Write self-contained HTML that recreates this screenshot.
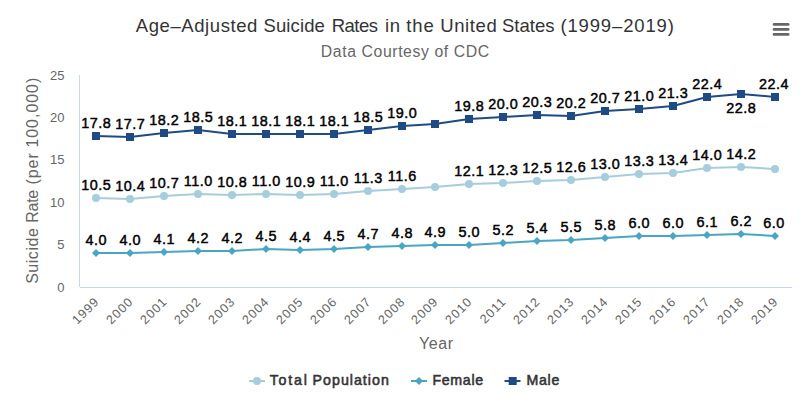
<!DOCTYPE html>
<html><head><meta charset="utf-8"><style>html,body{margin:0;padding:0;background:#fff;width:812px;height:418px;overflow:hidden}</style></head>
<body><svg width="812" height="418" viewBox="0 0 812 418" style="display:block;font-family:'Liberation Sans', sans-serif"><rect width="812" height="418" fill="#ffffff"/><text x="135.7" y="31.5" font-size="18.5" fill="#333333" textLength="121.7" lengthAdjust="spacing">Age–Adjusted</text><text x="263.5" y="31.5" font-size="18.5" fill="#333333" textLength="61.4" lengthAdjust="spacing">Suicide</text><text x="331.7" y="31.5" font-size="18.5" fill="#333333" textLength="46.3" lengthAdjust="spacing">Rates</text><text x="385.0" y="31.5" font-size="18.5" fill="#333333" textLength="15.1" lengthAdjust="spacing">in</text><text x="406.3" y="31.5" font-size="18.5" fill="#333333" textLength="27.6" lengthAdjust="spacing">the</text><text x="440.3" y="31.5" font-size="18.5" fill="#333333" textLength="56.4" lengthAdjust="spacing">United</text><text x="502.0" y="31.5" font-size="18.5" fill="#333333" textLength="52.6" lengthAdjust="spacing">States</text><text x="560.4" y="31.5" font-size="18.5" fill="#333333" textLength="113.5" lengthAdjust="spacing">(1999–2019)</text><text x="405" y="56.5" text-anchor="middle" font-size="15.8" fill="#666666" textLength="168.5" lengthAdjust="spacing">Data Courtesy of CDC</text><path d="M774 24.4 L788.2 24.4" stroke="#666666" stroke-width="2.6" stroke-linecap="round"/><path d="M774 29.4 L788.2 29.4" stroke="#666666" stroke-width="2.6" stroke-linecap="round"/><path d="M774 34.4 L788.2 34.4" stroke="#666666" stroke-width="2.6" stroke-linecap="round"/><path d="M79.5 75 L79.5 287" stroke="#ccd6eb" stroke-width="1"/><path d="M80 287.5 L792 287.5" stroke="#ccd6eb" stroke-width="1"/><text x="64.5" y="291.6" text-anchor="end" font-size="13" fill="#666666">0</text><text x="64.5" y="249.2" text-anchor="end" font-size="13" fill="#666666">5</text><text x="64.5" y="206.8" text-anchor="end" font-size="13" fill="#666666">10</text><text x="64.5" y="164.4" text-anchor="end" font-size="13" fill="#666666">15</text><text x="64.5" y="122.0" text-anchor="end" font-size="13" fill="#666666">20</text><text x="64.5" y="79.6" text-anchor="end" font-size="13" fill="#666666">25</text><text transform="translate(37.7,283.8) rotate(-90)" x="0" y="0" font-size="16" fill="#666666" textLength="55.6" lengthAdjust="spacing">Suicide</text><text transform="translate(37.7,222.7) rotate(-90)" x="0" y="0" font-size="16" fill="#666666" textLength="32.9" lengthAdjust="spacing">Rate</text><text transform="translate(37.7,184.6) rotate(-90)" x="0" y="0" font-size="16" fill="#666666" textLength="31.4" lengthAdjust="spacing">(per</text><text transform="translate(37.7,147.6) rotate(-90)" x="0" y="0" font-size="16" fill="#666666" textLength="69.9" lengthAdjust="spacing">100,000)</text><text transform="translate(100.0,302.3) rotate(-45)" text-anchor="end" font-size="12.6" letter-spacing="1.0" fill="#666666">1999</text><text transform="translate(134.0,302.3) rotate(-45)" text-anchor="end" font-size="12.6" letter-spacing="1.0" fill="#666666">2000</text><text transform="translate(168.0,302.3) rotate(-45)" text-anchor="end" font-size="12.6" letter-spacing="1.0" fill="#666666">2001</text><text transform="translate(202.0,302.3) rotate(-45)" text-anchor="end" font-size="12.6" letter-spacing="1.0" fill="#666666">2002</text><text transform="translate(236.0,302.3) rotate(-45)" text-anchor="end" font-size="12.6" letter-spacing="1.0" fill="#666666">2003</text><text transform="translate(270.0,302.3) rotate(-45)" text-anchor="end" font-size="12.6" letter-spacing="1.0" fill="#666666">2004</text><text transform="translate(304.0,302.3) rotate(-45)" text-anchor="end" font-size="12.6" letter-spacing="1.0" fill="#666666">2005</text><text transform="translate(338.0,302.3) rotate(-45)" text-anchor="end" font-size="12.6" letter-spacing="1.0" fill="#666666">2006</text><text transform="translate(372.0,302.3) rotate(-45)" text-anchor="end" font-size="12.6" letter-spacing="1.0" fill="#666666">2007</text><text transform="translate(406.0,302.3) rotate(-45)" text-anchor="end" font-size="12.6" letter-spacing="1.0" fill="#666666">2008</text><text transform="translate(439.0,302.3) rotate(-45)" text-anchor="end" font-size="12.6" letter-spacing="1.0" fill="#666666">2009</text><text transform="translate(473.0,302.3) rotate(-45)" text-anchor="end" font-size="12.6" letter-spacing="1.0" fill="#666666">2010</text><text transform="translate(507.0,302.3) rotate(-45)" text-anchor="end" font-size="12.6" letter-spacing="1.0" fill="#666666">2011</text><text transform="translate(541.0,302.3) rotate(-45)" text-anchor="end" font-size="12.6" letter-spacing="1.0" fill="#666666">2012</text><text transform="translate(575.0,302.3) rotate(-45)" text-anchor="end" font-size="12.6" letter-spacing="1.0" fill="#666666">2013</text><text transform="translate(609.0,302.3) rotate(-45)" text-anchor="end" font-size="12.6" letter-spacing="1.0" fill="#666666">2014</text><text transform="translate(643.0,302.3) rotate(-45)" text-anchor="end" font-size="12.6" letter-spacing="1.0" fill="#666666">2015</text><text transform="translate(677.0,302.3) rotate(-45)" text-anchor="end" font-size="12.6" letter-spacing="1.0" fill="#666666">2016</text><text transform="translate(711.0,302.3) rotate(-45)" text-anchor="end" font-size="12.6" letter-spacing="1.0" fill="#666666">2017</text><text transform="translate(745.0,302.3) rotate(-45)" text-anchor="end" font-size="12.6" letter-spacing="1.0" fill="#666666">2018</text><text transform="translate(779.0,302.3) rotate(-45)" text-anchor="end" font-size="12.6" letter-spacing="1.0" fill="#666666">2019</text><text x="436" y="348.7" text-anchor="middle" font-size="16" fill="#666666" textLength="34" lengthAdjust="spacing">Year</text><path d="M96.00 198.00 L130.00 199.00 L164.00 196.00 L198.00 194.00 L232.00 195.00 L266.00 194.00 L300.00 195.00 L334.00 194.00 L368.00 191.00 L402.00 189.00 L435.00 187.00 L469.00 184.00 L503.00 183.00 L537.00 181.00 L571.00 180.00 L605.00 177.00 L639.00 174.00 L673.00 173.00 L707.00 168.00 L741.00 167.00 L775.00 169.00" fill="none" stroke="#a5cddc" stroke-width="2" stroke-linejoin="round" stroke-linecap="round"/><circle cx="96.00" cy="198.00" r="4" fill="#a5cddc"/><circle cx="130.00" cy="199.00" r="4" fill="#a5cddc"/><circle cx="164.00" cy="196.00" r="4" fill="#a5cddc"/><circle cx="198.00" cy="194.00" r="4" fill="#a5cddc"/><circle cx="232.00" cy="195.00" r="4" fill="#a5cddc"/><circle cx="266.00" cy="194.00" r="4" fill="#a5cddc"/><circle cx="300.00" cy="195.00" r="4" fill="#a5cddc"/><circle cx="334.00" cy="194.00" r="4" fill="#a5cddc"/><circle cx="368.00" cy="191.00" r="4" fill="#a5cddc"/><circle cx="402.00" cy="189.00" r="4" fill="#a5cddc"/><circle cx="435.00" cy="187.00" r="4" fill="#a5cddc"/><circle cx="469.00" cy="184.00" r="4" fill="#a5cddc"/><circle cx="503.00" cy="183.00" r="4" fill="#a5cddc"/><circle cx="537.00" cy="181.00" r="4" fill="#a5cddc"/><circle cx="571.00" cy="180.00" r="4" fill="#a5cddc"/><circle cx="605.00" cy="177.00" r="4" fill="#a5cddc"/><circle cx="639.00" cy="174.00" r="4" fill="#a5cddc"/><circle cx="673.00" cy="173.00" r="4" fill="#a5cddc"/><circle cx="707.00" cy="168.00" r="4" fill="#a5cddc"/><circle cx="741.00" cy="167.00" r="4" fill="#a5cddc"/><circle cx="775.00" cy="169.00" r="4" fill="#a5cddc"/><path d="M96.00 253.00 L130.00 253.00 L164.00 252.00 L198.00 251.00 L232.00 251.00 L266.00 249.00 L300.00 250.00 L334.00 249.00 L368.00 247.00 L402.00 246.00 L435.00 245.00 L469.00 245.00 L503.00 243.00 L537.00 241.00 L571.00 240.00 L605.00 238.00 L639.00 236.00 L673.00 236.00 L707.00 235.00 L741.00 234.00 L775.00 236.00" fill="none" stroke="#48a6c4" stroke-width="2" stroke-linejoin="round" stroke-linecap="round"/><path d="M96.00 249.00 L100.00 253.00 L96.00 257.00 L92.00 253.00 Z" fill="#48a6c4"/><path d="M130.00 249.00 L134.00 253.00 L130.00 257.00 L126.00 253.00 Z" fill="#48a6c4"/><path d="M164.00 248.00 L168.00 252.00 L164.00 256.00 L160.00 252.00 Z" fill="#48a6c4"/><path d="M198.00 247.00 L202.00 251.00 L198.00 255.00 L194.00 251.00 Z" fill="#48a6c4"/><path d="M232.00 247.00 L236.00 251.00 L232.00 255.00 L228.00 251.00 Z" fill="#48a6c4"/><path d="M266.00 245.00 L270.00 249.00 L266.00 253.00 L262.00 249.00 Z" fill="#48a6c4"/><path d="M300.00 246.00 L304.00 250.00 L300.00 254.00 L296.00 250.00 Z" fill="#48a6c4"/><path d="M334.00 245.00 L338.00 249.00 L334.00 253.00 L330.00 249.00 Z" fill="#48a6c4"/><path d="M368.00 243.00 L372.00 247.00 L368.00 251.00 L364.00 247.00 Z" fill="#48a6c4"/><path d="M402.00 242.00 L406.00 246.00 L402.00 250.00 L398.00 246.00 Z" fill="#48a6c4"/><path d="M435.00 241.00 L439.00 245.00 L435.00 249.00 L431.00 245.00 Z" fill="#48a6c4"/><path d="M469.00 241.00 L473.00 245.00 L469.00 249.00 L465.00 245.00 Z" fill="#48a6c4"/><path d="M503.00 239.00 L507.00 243.00 L503.00 247.00 L499.00 243.00 Z" fill="#48a6c4"/><path d="M537.00 237.00 L541.00 241.00 L537.00 245.00 L533.00 241.00 Z" fill="#48a6c4"/><path d="M571.00 236.00 L575.00 240.00 L571.00 244.00 L567.00 240.00 Z" fill="#48a6c4"/><path d="M605.00 234.00 L609.00 238.00 L605.00 242.00 L601.00 238.00 Z" fill="#48a6c4"/><path d="M639.00 232.00 L643.00 236.00 L639.00 240.00 L635.00 236.00 Z" fill="#48a6c4"/><path d="M673.00 232.00 L677.00 236.00 L673.00 240.00 L669.00 236.00 Z" fill="#48a6c4"/><path d="M707.00 231.00 L711.00 235.00 L707.00 239.00 L703.00 235.00 Z" fill="#48a6c4"/><path d="M741.00 230.00 L745.00 234.00 L741.00 238.00 L737.00 234.00 Z" fill="#48a6c4"/><path d="M775.00 232.00 L779.00 236.00 L775.00 240.00 L771.00 236.00 Z" fill="#48a6c4"/><path d="M96.00 136.00 L130.00 137.00 L164.00 133.00 L198.00 130.00 L232.00 134.00 L266.00 134.00 L300.00 134.00 L334.00 134.00 L368.00 130.00 L402.00 126.00 L435.00 124.00 L469.00 119.00 L503.00 117.00 L537.00 115.00 L571.00 116.00 L605.00 111.00 L639.00 109.00 L673.00 106.00 L707.00 97.00 L741.00 94.00 L775.00 97.00" fill="none" stroke="#1f4b85" stroke-width="2" stroke-linejoin="round" stroke-linecap="round"/><rect x="92.00" y="132.00" width="8" height="8" fill="#1f4b85"/><rect x="126.00" y="133.00" width="8" height="8" fill="#1f4b85"/><rect x="160.00" y="129.00" width="8" height="8" fill="#1f4b85"/><rect x="194.00" y="126.00" width="8" height="8" fill="#1f4b85"/><rect x="228.00" y="130.00" width="8" height="8" fill="#1f4b85"/><rect x="262.00" y="130.00" width="8" height="8" fill="#1f4b85"/><rect x="296.00" y="130.00" width="8" height="8" fill="#1f4b85"/><rect x="330.00" y="130.00" width="8" height="8" fill="#1f4b85"/><rect x="364.00" y="126.00" width="8" height="8" fill="#1f4b85"/><rect x="398.00" y="122.00" width="8" height="8" fill="#1f4b85"/><rect x="431.00" y="120.00" width="8" height="8" fill="#1f4b85"/><rect x="465.00" y="115.00" width="8" height="8" fill="#1f4b85"/><rect x="499.00" y="113.00" width="8" height="8" fill="#1f4b85"/><rect x="533.00" y="111.00" width="8" height="8" fill="#1f4b85"/><rect x="567.00" y="112.00" width="8" height="8" fill="#1f4b85"/><rect x="601.00" y="107.00" width="8" height="8" fill="#1f4b85"/><rect x="635.00" y="105.00" width="8" height="8" fill="#1f4b85"/><rect x="669.00" y="102.00" width="8" height="8" fill="#1f4b85"/><rect x="703.00" y="93.00" width="8" height="8" fill="#1f4b85"/><rect x="737.00" y="90.00" width="8" height="8" fill="#1f4b85"/><rect x="771.00" y="93.00" width="8" height="8" fill="#1f4b85"/><text x="96.25" y="190.20" text-anchor="middle" font-size="14.4" letter-spacing="0.5" fill="#000000" stroke="#000000" stroke-width="0.45">10.5</text><text x="130.25" y="191.20" text-anchor="middle" font-size="14.4" letter-spacing="0.5" fill="#000000" stroke="#000000" stroke-width="0.45">10.4</text><text x="164.25" y="188.20" text-anchor="middle" font-size="14.4" letter-spacing="0.5" fill="#000000" stroke="#000000" stroke-width="0.45">10.7</text><text x="198.25" y="186.20" text-anchor="middle" font-size="14.4" letter-spacing="0.5" fill="#000000" stroke="#000000" stroke-width="0.45">11.0</text><text x="232.25" y="187.20" text-anchor="middle" font-size="14.4" letter-spacing="0.5" fill="#000000" stroke="#000000" stroke-width="0.45">10.8</text><text x="266.25" y="186.20" text-anchor="middle" font-size="14.4" letter-spacing="0.5" fill="#000000" stroke="#000000" stroke-width="0.45">11.0</text><text x="300.25" y="187.20" text-anchor="middle" font-size="14.4" letter-spacing="0.5" fill="#000000" stroke="#000000" stroke-width="0.45">10.9</text><text x="334.25" y="186.20" text-anchor="middle" font-size="14.4" letter-spacing="0.5" fill="#000000" stroke="#000000" stroke-width="0.45">11.0</text><text x="368.25" y="183.20" text-anchor="middle" font-size="14.4" letter-spacing="0.5" fill="#000000" stroke="#000000" stroke-width="0.45">11.3</text><text x="402.25" y="181.20" text-anchor="middle" font-size="14.4" letter-spacing="0.5" fill="#000000" stroke="#000000" stroke-width="0.45">11.6</text><text x="469.25" y="176.20" text-anchor="middle" font-size="14.4" letter-spacing="0.5" fill="#000000" stroke="#000000" stroke-width="0.45">12.1</text><text x="503.25" y="175.20" text-anchor="middle" font-size="14.4" letter-spacing="0.5" fill="#000000" stroke="#000000" stroke-width="0.45">12.3</text><text x="537.25" y="173.20" text-anchor="middle" font-size="14.4" letter-spacing="0.5" fill="#000000" stroke="#000000" stroke-width="0.45">12.5</text><text x="571.25" y="172.20" text-anchor="middle" font-size="14.4" letter-spacing="0.5" fill="#000000" stroke="#000000" stroke-width="0.45">12.6</text><text x="605.25" y="169.20" text-anchor="middle" font-size="14.4" letter-spacing="0.5" fill="#000000" stroke="#000000" stroke-width="0.45">13.0</text><text x="639.25" y="166.20" text-anchor="middle" font-size="14.4" letter-spacing="0.5" fill="#000000" stroke="#000000" stroke-width="0.45">13.3</text><text x="673.25" y="165.20" text-anchor="middle" font-size="14.4" letter-spacing="0.5" fill="#000000" stroke="#000000" stroke-width="0.45">13.4</text><text x="707.25" y="160.20" text-anchor="middle" font-size="14.4" letter-spacing="0.5" fill="#000000" stroke="#000000" stroke-width="0.45">14.0</text><text x="741.25" y="159.20" text-anchor="middle" font-size="14.4" letter-spacing="0.5" fill="#000000" stroke="#000000" stroke-width="0.45">14.2</text><text x="96.25" y="245.20" text-anchor="middle" font-size="14.4" letter-spacing="0.5" fill="#000000" stroke="#000000" stroke-width="0.45">4.0</text><text x="130.25" y="245.20" text-anchor="middle" font-size="14.4" letter-spacing="0.5" fill="#000000" stroke="#000000" stroke-width="0.45">4.0</text><text x="164.25" y="244.20" text-anchor="middle" font-size="14.4" letter-spacing="0.5" fill="#000000" stroke="#000000" stroke-width="0.45">4.1</text><text x="198.25" y="243.20" text-anchor="middle" font-size="14.4" letter-spacing="0.5" fill="#000000" stroke="#000000" stroke-width="0.45">4.2</text><text x="232.25" y="243.20" text-anchor="middle" font-size="14.4" letter-spacing="0.5" fill="#000000" stroke="#000000" stroke-width="0.45">4.2</text><text x="266.25" y="241.20" text-anchor="middle" font-size="14.4" letter-spacing="0.5" fill="#000000" stroke="#000000" stroke-width="0.45">4.5</text><text x="300.25" y="242.20" text-anchor="middle" font-size="14.4" letter-spacing="0.5" fill="#000000" stroke="#000000" stroke-width="0.45">4.4</text><text x="334.25" y="241.20" text-anchor="middle" font-size="14.4" letter-spacing="0.5" fill="#000000" stroke="#000000" stroke-width="0.45">4.5</text><text x="368.25" y="239.20" text-anchor="middle" font-size="14.4" letter-spacing="0.5" fill="#000000" stroke="#000000" stroke-width="0.45">4.7</text><text x="402.25" y="238.20" text-anchor="middle" font-size="14.4" letter-spacing="0.5" fill="#000000" stroke="#000000" stroke-width="0.45">4.8</text><text x="435.25" y="237.20" text-anchor="middle" font-size="14.4" letter-spacing="0.5" fill="#000000" stroke="#000000" stroke-width="0.45">4.9</text><text x="469.25" y="237.20" text-anchor="middle" font-size="14.4" letter-spacing="0.5" fill="#000000" stroke="#000000" stroke-width="0.45">5.0</text><text x="503.25" y="235.20" text-anchor="middle" font-size="14.4" letter-spacing="0.5" fill="#000000" stroke="#000000" stroke-width="0.45">5.2</text><text x="537.25" y="233.20" text-anchor="middle" font-size="14.4" letter-spacing="0.5" fill="#000000" stroke="#000000" stroke-width="0.45">5.4</text><text x="571.25" y="232.20" text-anchor="middle" font-size="14.4" letter-spacing="0.5" fill="#000000" stroke="#000000" stroke-width="0.45">5.5</text><text x="605.25" y="230.20" text-anchor="middle" font-size="14.4" letter-spacing="0.5" fill="#000000" stroke="#000000" stroke-width="0.45">5.8</text><text x="639.25" y="228.20" text-anchor="middle" font-size="14.4" letter-spacing="0.5" fill="#000000" stroke="#000000" stroke-width="0.45">6.0</text><text x="673.25" y="228.20" text-anchor="middle" font-size="14.4" letter-spacing="0.5" fill="#000000" stroke="#000000" stroke-width="0.45">6.0</text><text x="707.25" y="227.20" text-anchor="middle" font-size="14.4" letter-spacing="0.5" fill="#000000" stroke="#000000" stroke-width="0.45">6.1</text><text x="741.25" y="226.20" text-anchor="middle" font-size="14.4" letter-spacing="0.5" fill="#000000" stroke="#000000" stroke-width="0.45">6.2</text><text x="774.05" y="228.20" text-anchor="middle" font-size="14.4" letter-spacing="0.5" fill="#000000" stroke="#000000" stroke-width="0.45">6.0</text><text x="96.25" y="128.20" text-anchor="middle" font-size="14.4" letter-spacing="0.5" fill="#000000" stroke="#000000" stroke-width="0.45">17.8</text><text x="130.25" y="129.20" text-anchor="middle" font-size="14.4" letter-spacing="0.5" fill="#000000" stroke="#000000" stroke-width="0.45">17.7</text><text x="164.25" y="125.20" text-anchor="middle" font-size="14.4" letter-spacing="0.5" fill="#000000" stroke="#000000" stroke-width="0.45">18.2</text><text x="198.25" y="122.20" text-anchor="middle" font-size="14.4" letter-spacing="0.5" fill="#000000" stroke="#000000" stroke-width="0.45">18.5</text><text x="232.25" y="126.20" text-anchor="middle" font-size="14.4" letter-spacing="0.5" fill="#000000" stroke="#000000" stroke-width="0.45">18.1</text><text x="266.25" y="126.20" text-anchor="middle" font-size="14.4" letter-spacing="0.5" fill="#000000" stroke="#000000" stroke-width="0.45">18.1</text><text x="300.25" y="126.20" text-anchor="middle" font-size="14.4" letter-spacing="0.5" fill="#000000" stroke="#000000" stroke-width="0.45">18.1</text><text x="334.25" y="126.20" text-anchor="middle" font-size="14.4" letter-spacing="0.5" fill="#000000" stroke="#000000" stroke-width="0.45">18.1</text><text x="368.25" y="122.20" text-anchor="middle" font-size="14.4" letter-spacing="0.5" fill="#000000" stroke="#000000" stroke-width="0.45">18.5</text><text x="402.25" y="118.20" text-anchor="middle" font-size="14.4" letter-spacing="0.5" fill="#000000" stroke="#000000" stroke-width="0.45">19.0</text><text x="469.25" y="111.20" text-anchor="middle" font-size="14.4" letter-spacing="0.5" fill="#000000" stroke="#000000" stroke-width="0.45">19.8</text><text x="503.25" y="109.20" text-anchor="middle" font-size="14.4" letter-spacing="0.5" fill="#000000" stroke="#000000" stroke-width="0.45">20.0</text><text x="537.25" y="107.20" text-anchor="middle" font-size="14.4" letter-spacing="0.5" fill="#000000" stroke="#000000" stroke-width="0.45">20.3</text><text x="571.25" y="108.20" text-anchor="middle" font-size="14.4" letter-spacing="0.5" fill="#000000" stroke="#000000" stroke-width="0.45">20.2</text><text x="605.25" y="103.20" text-anchor="middle" font-size="14.4" letter-spacing="0.5" fill="#000000" stroke="#000000" stroke-width="0.45">20.7</text><text x="639.25" y="101.20" text-anchor="middle" font-size="14.4" letter-spacing="0.5" fill="#000000" stroke="#000000" stroke-width="0.45">21.0</text><text x="673.25" y="98.20" text-anchor="middle" font-size="14.4" letter-spacing="0.5" fill="#000000" stroke="#000000" stroke-width="0.45">21.3</text><text x="707.25" y="89.20" text-anchor="middle" font-size="14.4" letter-spacing="0.5" fill="#000000" stroke="#000000" stroke-width="0.45">22.4</text><text x="741.25" y="113.30" text-anchor="middle" font-size="14.4" letter-spacing="0.5" fill="#000000" stroke="#000000" stroke-width="0.45">22.8</text><text x="774.05" y="89.20" text-anchor="middle" font-size="14.4" letter-spacing="0.5" fill="#000000" stroke="#000000" stroke-width="0.45">22.4</text><path d="M249 381 L265 381" stroke="#a5cddc" stroke-width="2"/><circle cx="257" cy="381" r="4" fill="#a5cddc"/><text x="269.7" y="385" font-size="14.2" fill="#333333" stroke="#333333" stroke-width="0.55" textLength="37.3" lengthAdjust="spacing">Total</text><text x="312.6" y="385" font-size="14.2" fill="#333333" stroke="#333333" stroke-width="0.55" textLength="76.2" lengthAdjust="spacing">Population</text><path d="M411 381 L427 381" stroke="#48a6c4" stroke-width="2"/><path d="M419 377 L423 381 L419 385 L415 381 Z" fill="#48a6c4"/><text x="432.4" y="385" font-size="14.2" fill="#333333" stroke="#333333" stroke-width="0.55" textLength="50.8" lengthAdjust="spacing">Female</text><path d="M504.5 381 L520.5 381" stroke="#1f4b85" stroke-width="2"/><rect x="508.70000000000005" y="377" width="8" height="8" fill="#1f4b85"/><text x="526.4" y="385" font-size="14.2" fill="#333333" stroke="#333333" stroke-width="0.55" textLength="32.9" lengthAdjust="spacing">Male</text></svg></body></html>
